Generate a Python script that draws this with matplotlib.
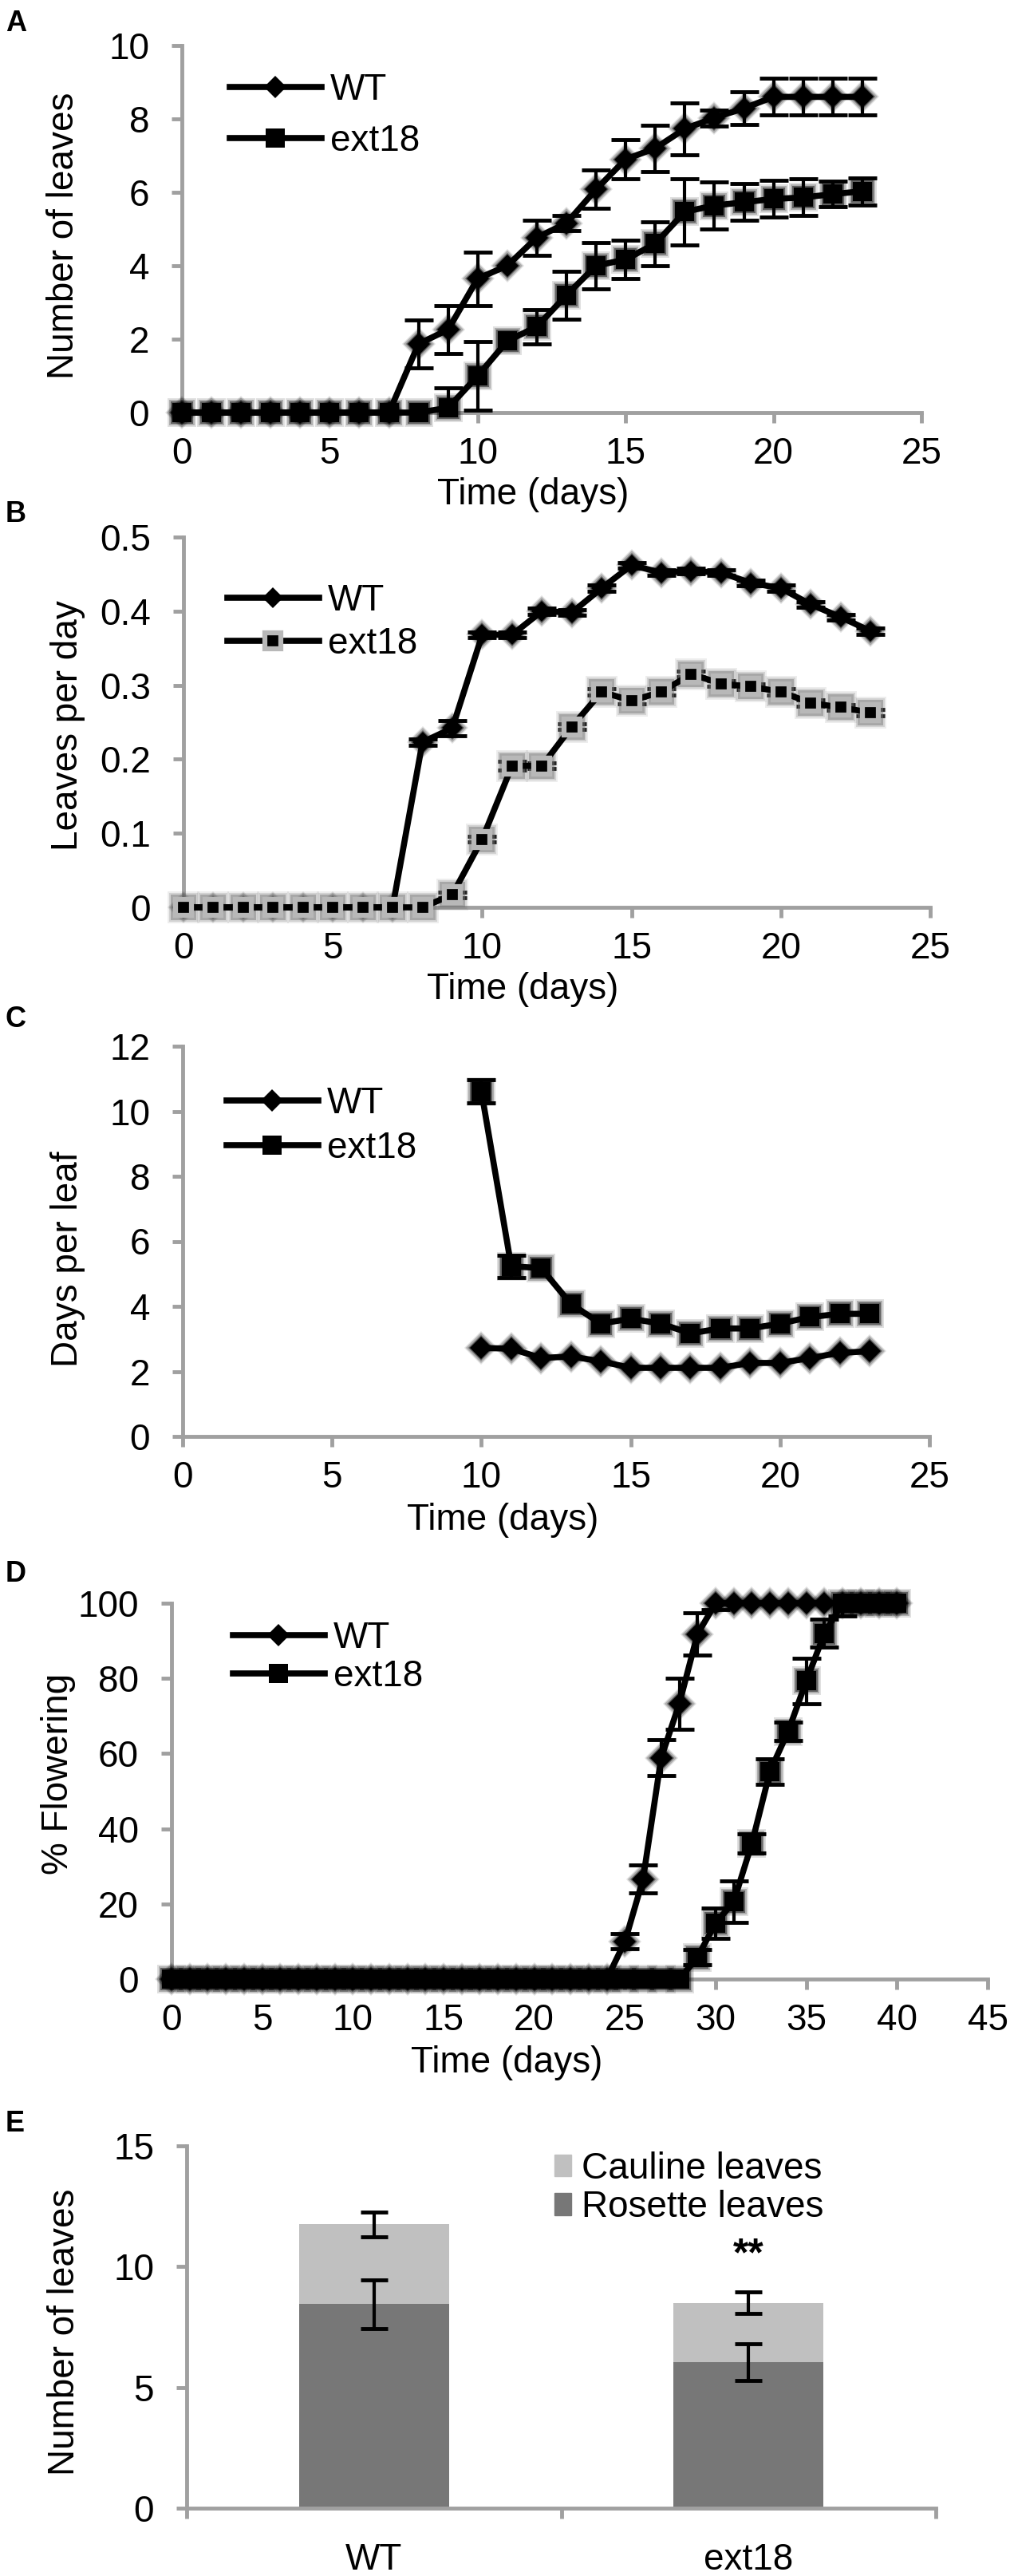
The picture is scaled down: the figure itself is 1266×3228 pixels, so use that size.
import numpy as np
import matplotlib
matplotlib.use('Agg')
import matplotlib.pyplot as plt
from matplotlib.lines import Line2D
from matplotlib.patches import Patch

plt.rcParams['font.family'] = ['Liberation Sans', 'DejaVu Sans']

# ---------------- data ----------------
days_ab = list(range(0, 24))
wt_leaves = [0] * 8 + [1.87, 2.26, 3.65, 4.0, 4.77, 5.16, 6.08, 6.9, 7.2, 7.73, 8.03, 8.29, 8.6, 8.6, 8.6, 8.6]
wt_leaves_err = [0] * 8 + [0.65, 0.65, 0.73, 0, 0.48, 0.2, 0.52, 0.54, 0.63, 0.7, 0.22, 0.45, 0.5, 0.5, 0.5, 0.5]
ext18_leaves = [0] * 9 + [0.13, 1.0, 1.95, 2.34, 3.2, 4.0, 4.17, 4.6, 5.47, 5.64, 5.73, 5.82, 5.86, 5.95, 6.03]
ext18_leaves_err = [0] * 9 + [0.55, 0.93, 0, 0.47, 0.65, 0.63, 0.52, 0.6, 0.9, 0.65, 0.5, 0.5, 0.5, 0.35, 0.37]

wt_rate = [0] * 8 + [0.223, 0.242, 0.368, 0.368, 0.40, 0.398, 0.431, 0.462, 0.452, 0.454, 0.452, 0.438, 0.431, 0.409, 0.392, 0.373]
wt_rate_err = [0] * 8 + [0.004, 0.01, 0.004, 0.004, 0.004, 0.004, 0.004, 0.004, 0.004, 0.004, 0.004, 0.004, 0.004, 0.004, 0.004, 0.004]
ext18_rate = [0] * 9 + [0.017, 0.092, 0.191, 0.191, 0.244, 0.291, 0.279, 0.291, 0.315, 0.302, 0.298, 0.291, 0.276, 0.27, 0.263]
ext18_rate_err = [0] * 9 + [0.004, 0.004, 0.006, 0.004, 0.004, 0.004, 0.004, 0.004, 0.004, 0.004, 0.004, 0.004, 0.004, 0.004, 0.004]

days_c = list(range(10, 24))
wt_dpl = [2.72, 2.70, 2.41, 2.46, 2.31, 2.11, 2.11, 2.11, 2.11, 2.26, 2.26, 2.41, 2.57, 2.62]
wt_dpl_err = [0] * 14
ext18_dpl = [10.61, 5.23, 5.18, 4.07, 3.47, 3.62, 3.47, 3.17, 3.32, 3.32, 3.47, 3.67, 3.77, 3.77]
ext18_dpl_err = [0.36, 0.35] + [0] * 12

days_d = list(range(0, 41))
wt_flow = [0] * 25 + [10.0, 26.6, 58.9, 73.3, 91.8] + [100] * 11
wt_flow_err = [0] * 25 + [2.0, 3.7, 4.8, 6.8, 5.7] + [1.8] + [0] * 10
ext18_flow = [0] * 29 + [5.8, 14.9, 20.6, 36.1, 55.3, 65.9, 79.3, 92.0] + [100] * 4
ext18_flow_err = [0] * 29 + [2.0, 4.0, 5.5, 2.5, 3.4, 2.4, 6.1, 3.7] + [3.3] + [0] * 3

genotypes = ['WT', 'ext18']
rosette = [8.45, 6.05]
rosette_err = [1.0, 0.75]
cauline = [3.30, 2.45]
total_err = [0.5, 0.45]

# ---------------- layout helpers ----------------
W, H = 1266, 3228
FS = 33
GRAY = '#a0a0a0'
fig = plt.figure(figsize=(W / 100, H / 100), dpi=100)


def axpx(left, right, top, bottom):
    ax = fig.add_axes([left / W, 1 - bottom / H, (right - left) / W, (bottom - top) / H])
    ax._px = (left, right, top, bottom)
    return ax


def style(ax):
    for s in ['top', 'right']:
        ax.spines[s].set_visible(False)
    for s in ['left', 'bottom']:
        ax.spines[s].set_color(GRAY)
        ax.spines[s].set_linewidth(3.5)
    ax.tick_params(direction='out', length=9.5, width=3.5, color=GRAY,
                   labelsize=FS, labelcolor='k')
    ax.tick_params(axis='x', pad=12)
    ax.tick_params(axis='y', pad=20)


def labels(ax, xl, xlpos, yl, ylpos):
    left, right, top, bottom = ax._px
    w, h = right - left, bottom - top
    if xl:
        ax.set_xlabel(xl, fontsize=FS, va='center', ha='center')
        ax.xaxis.set_label_coords((xlpos[0] - left) / w, (bottom - xlpos[1]) / h)
    ax.set_ylabel(yl, fontsize=FS, va='center', ha='center')
    ax.yaxis.set_label_coords((ylpos[0] - left) / w, (bottom - ylpos[1]) / h)


def series(ax, x, y, err, marker, ms, mec='k', mew=0, halo='k'):
    x = np.asarray(x, float)
    y = np.asarray(y, float)
    err = np.asarray(err, float)
    m = err > 0
    if m.any():
        ax.errorbar(x[m], y[m], yerr=err[m], fmt='none', ecolor='k',
                    elinewidth=3, capsize=13, capthick=3.5, zorder=3)
    k = 0.75 if marker == 'D' else 1.0
    extra = mew if mew else 0
    for grow, a in [(9, 0.12), (6, 0.22), (3, 0.45)]:
        ax.plot(x, y, ls='none', marker=marker, ms=ms + grow * k + extra,
                color=halo, alpha=a, mew=0, clip_on=False, zorder=3.5)
    line, = ax.plot(x, y, color='k', lw=5.5, marker=marker, ms=ms, mfc='k',
                    mec=mec, mew=mew, clip_on=False, zorder=4)
    return line


def legend(ax, handles, names, px, py, spacing, **kw):
    opts = dict(loc='center left', bbox_to_anchor=(px / W, 1 - py / H),
                bbox_transform=fig.transFigure, frameon=False, fontsize=FS,
                handlelength=2.5, handletextpad=0.25, borderpad=0,
                borderaxespad=0, labelspacing=spacing, numpoints=1)
    opts.update(kw)
    ax.legend(handles, names, **opts)


def panel_letter(letter, ytop):
    fig.text(7 / W, 1 - ytop / H, letter, fontsize=26, fontweight='bold',
             ha='left', va='top')


# ---------------- A ----------------
axA = axpx(228, 1155, 57, 517)
style(axA)
hw = series(axA, days_ab, wt_leaves, wt_leaves_err, 'D', 14.5)
he = series(axA, days_ab, ext18_leaves, ext18_leaves_err, 's', 17.5)
axA.set_xlim(0, 25)
axA.set_ylim(0, 10)
axA.set_xticks(range(0, 26, 5))
axA.set_yticks(range(0, 11, 2))
labels(axA, 'Time (days)', (668, 620), 'Number of leaves', (80, 295))
legend(axA, [hw, he], ['WT', 'ext18'], 288, 145, 0.45)
panel_letter('A', 12)

# ---------------- B ----------------
axB = axpx(230, 1166, 673, 1137)
style(axB)
hw = series(axB, days_ab, wt_rate, wt_rate_err, 'D', 13.5)
he = series(axB, days_ab, ext18_rate, ext18_rate_err, 's', 15, mec='#b8b8b8', mew=4.5, halo='0.45')
axB.set_xlim(0, 25)
axB.set_ylim(0, 0.5)
axB.set_xticks(range(0, 26, 5))
axB.set_yticks([0, 0.1, 0.2, 0.3, 0.4, 0.5])
axB.set_yticklabels(['0', '0.1', '0.2', '0.3', '0.4', '0.5'])
labels(axB, 'Time (days)', (655, 1240), 'Leaves per day', (85, 909))
legend(axB, [hw, he], ['WT', 'ext18'], 285, 780, 0.2)
panel_letter('B', 627)

# ---------------- C ----------------
axC = axpx(229, 1165, 1311, 1800)
style(axC)
hw = series(axC, days_c, wt_dpl, wt_dpl_err, 'D', 14.5)
he = series(axC, days_c, ext18_dpl, ext18_dpl_err, 's', 17.5)
axC.set_xlim(0, 25)
axC.set_ylim(0, 12)
axC.set_xticks(range(0, 26, 5))
axC.set_yticks(range(0, 13, 2))
labels(axC, 'Time (days)', (630, 1905), 'Days per leaf', (85, 1578))
legend(axC, [hw, he], ['WT', 'ext18'], 284, 1411, 0.28)
panel_letter('C', 1260)

# ---------------- D ----------------
axD = axpx(215, 1238, 2009, 2480)
style(axD)
hw = series(axD, days_d, wt_flow, wt_flow_err, 'D', 14.5)
he = series(axD, days_d, ext18_flow, ext18_flow_err, 's', 17.5)
axD.set_xlim(0, 45)
axD.set_ylim(0, 100)
axD.set_xticks(range(0, 46, 5))
axD.set_yticks(range(0, 101, 20))
labels(axD, 'Time (days)', (635, 2585), '% Flowering', (73, 2223))
legend(axD, [hw, he], ['WT', 'ext18'], 292, 2077, 0.08)
panel_letter('D', 1955)

# ---------------- E ----------------
axE = axpx(234, 1173, 2689, 3143)
style(axE)
xpos = np.arange(len(genotypes))
axE.bar(xpos, rosette, width=0.4, color='#777777', zorder=2)
axE.bar(xpos, cauline, width=0.4, bottom=rosette, color='#c0c0c0', zorder=2)
axE.errorbar(xpos, rosette, yerr=rosette_err, fmt='none', ecolor='k',
             elinewidth=3, capsize=12, capthick=3.5, zorder=3)
tot = np.array(rosette) + np.array(cauline)
axE.errorbar(xpos, tot, yerr=total_err, fmt='none', ecolor='k',
             elinewidth=3, capsize=12, capthick=3.5, zorder=3)
axE.text(1, 10.45, '**', ha='center', va='center', fontsize=36, fontweight='bold')
axE.set_xlim(-0.5, 1.5)
axE.set_ylim(0, 15)
axE.set_yticks([0, 5, 10, 15])
axE.set_xticks(xpos)
axE.set_xticklabels(genotypes)
axE.set_xticks([-0.5, 0.5, 1.5], minor=True)
axE.tick_params(axis='x', which='major', length=0, pad=31)
axE.tick_params(axis='x', which='minor', length=9.5, width=3.5, color=GRAY, direction='out')
labels(axE, None, None, 'Number of leaves', (81, 2922))
legend(axE, [Patch(color='#c0c0c0'), Patch(color='#777777')],
       ['Cauline leaves', 'Rosette leaves'], 695, 2742, 0.1,
       handlelength=0.45, handleheight=0.55, handletextpad=0.3)
panel_letter('E', 2644)

fig.savefig('out.png', dpi=100)
